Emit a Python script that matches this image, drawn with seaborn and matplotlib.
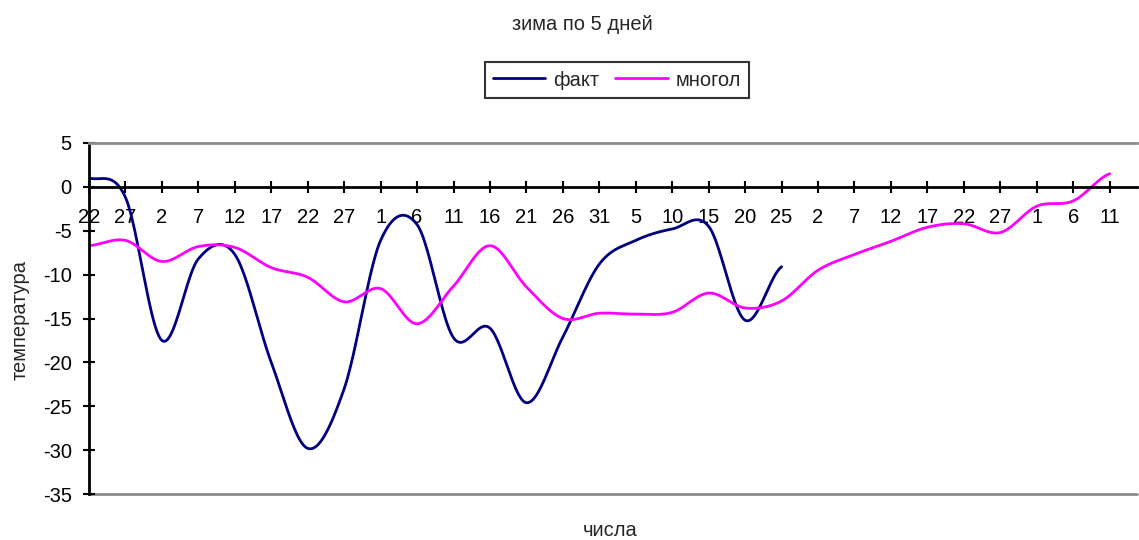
import numpy as np
import pandas as pd
import matplotlib
matplotlib.use('Agg')
import matplotlib.pyplot as plt
import seaborn as sns

TITLE = 'зима по 5 дней'
X_LABEL = 'числа'
Y_LABEL = 'температура'

# day-of-month labels for the 5-day steps
DAYS = ['22', '27', '2', '7', '12', '17', '22', '27', '1', '6', '11', '16', '21', '26', '31',
        '5', '10', '15', '20', '25', '2', '7', '12', '17', '22', '27', '1', '6', '11']

FAKT = [1.0, -1.2, -17.5, -8.2, -7.7, -20.0, -29.8, -23.0, -6.1, -4.3, -17.2, -16.1,
        -24.6, -17.1, -8.8, -6.1, -4.8, -4.5, -15.2, -9.1]
MNOGOL = [-6.7, -6.1, -8.5, -6.8, -6.9, -9.2, -10.3, -13.1, -11.6, -15.6, -11.3, -6.7,
          -11.4, -15.0, -14.4, -14.5, -14.3, -12.1, -13.8, -13.0, -9.5, -7.7, -6.2, -4.6,
          -4.2, -5.2, -2.2, -1.6, 1.5]

COLORS = {'факт': '#000080', 'многол': '#FF00FF'}
FONT = 14.5


def smooth(vals, n=24):
    # Excel-style smoothed line (Catmull-Rom through the points), drawing only
    y = np.asarray(vals, float)
    ext = np.r_[y[0], y, y[-1]]
    t = np.linspace(0, 1, n, endpoint=False)
    h00 = 2 * t**3 - 3 * t**2 + 1
    h10 = t**3 - 2 * t**2 + t
    h01 = -2 * t**3 + 3 * t**2
    h11 = t**3 - t**2
    xs, ys = [], []
    for i in range(len(y) - 1):
        p0, p1, p2, p3 = ext[i:i + 4]
        m1 = (p2 - p0) / 2
        m2 = (p3 - p1) / 2
        xs.append(i + t)
        ys.append(h00 * p1 + h10 * m1 + h01 * p2 + h11 * m2)
    xs.append([len(y) - 1])
    ys.append([y[-1]])
    return np.concatenate(xs), np.concatenate(ys)


frames = []
for name, vals in [('факт', FAKT), ('многол', MNOGOL)]:
    sx, sy = smooth(vals)
    frames.append(pd.DataFrame({'x': sx, 'value': sy, 'series': name}))
df = pd.concat(frames, ignore_index=True)

sns.set_style('white')
plt.rcParams['font.family'] = ['Liberation Sans', 'DejaVu Sans']
plt.rcParams['axes.unicode_minus'] = False

fig = plt.figure(figsize=(11.39, 5.4), dpi=100)
ax = fig.add_axes([89 / 1139, 46 / 540, 1048 / 1139, 351 / 540])

sns.lineplot(data=df, x='x', y='value', hue='series', palette=COLORS, sort=False,
             estimator=None, linewidth=2.0, ax=ax)

ax.set_xlim(0, 28.75)
ax.set_ylim(-35, 5)
ax.set_xticks(range(len(DAYS)))
ax.set_xticklabels(DAYS)
ax.set_yticks(range(-35, 6, 5))
ax.set_yticklabels([str(v) for v in range(-35, 6, 5)])

ax.spines['left'].set_color('black')
ax.spines['left'].set_linewidth(2)
ax.spines['bottom'].set_position(('data', 0))
ax.spines['bottom'].set_color('black')
ax.spines['bottom'].set_linewidth(2)
ax.spines['top'].set_color('#8c8c8c')
ax.spines['top'].set_linewidth(2)
ax.spines['right'].set_visible(False)
ax.axhline(-35, color='#8c8c8c', linewidth=2, clip_on=False, zorder=0)

ax.tick_params(axis='both', direction='inout', length=9, width=1.5, color='black',
               labelsize=FONT, labelcolor='black', bottom=True, left=True)
ax.tick_params(axis='x', pad=11)
ax.tick_params(axis='y', pad=8)

ax.set_xlabel('')
ax.set_ylabel('')
fig.text(20 / 1139, 1 - 320 / 540, Y_LABEL, rotation=90, ha='center', va='center',
         fontsize=FONT)
fig.text(610 / 1139, 1 - 530 / 540, X_LABEL, ha='center', va='center', fontsize=FONT)
fig.text(582 / 1139, 1 - 24 / 540, TITLE, ha='center', va='center', fontsize=FONT)

sns.move_legend(ax, 'center', bbox_to_anchor=(617 / 1139, 1 - 80 / 540),
                bbox_transform=fig.transFigure, ncol=2, title=None, frameon=True,
                fontsize=FONT, handlelength=2.6, handletextpad=0.4, columnspacing=0.8,
                borderpad=0.4, fancybox=False, edgecolor='black')
leg = ax.get_legend()
leg.get_frame().set_linewidth(1.5)

fig.savefig('out.png', dpi=100, facecolor='white')
